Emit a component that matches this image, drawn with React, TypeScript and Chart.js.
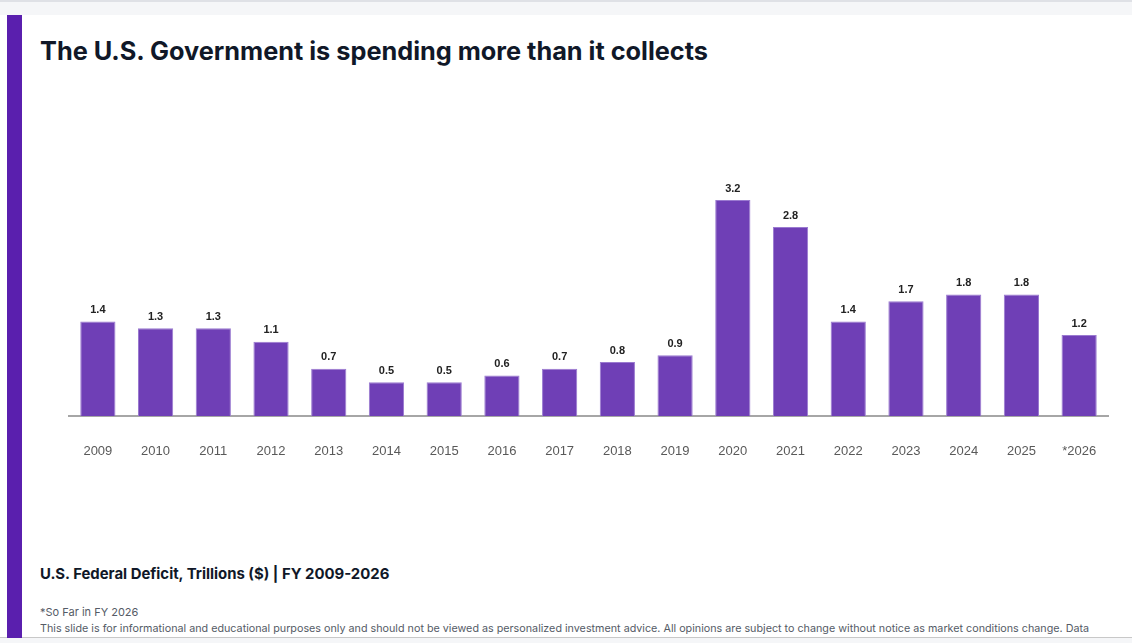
import React, { useEffect, useRef } from "react";
import { Chart, registerables } from "chart.js";

Chart.register(...registerables);

const years = [
  "2009", "2010", "2011", "2012", "2013", "2014", "2015", "2016", "2017",
  "2018", "2019", "2020", "2021", "2022", "2023", "2024", "2025", "*2026",
];
const deficits = [1.4, 1.3, 1.3, 1.1, 0.7, 0.5, 0.5, 0.6, 0.7, 0.8, 0.9, 3.2, 2.8, 1.4, 1.7, 1.8, 1.8, 1.2];

const TITLE = "The U.S. Government is spending more than it collects";
const SUBTITLE = "U.S. Federal Deficit, Trillions ($) | FY 2009-2026";
const FOOTNOTE = "*So Far in FY 2026";
const DISCLAIMER =
  "This slide is for informational and educational purposes only and should not be viewed as personalized investment advice. All opinions are subject to change without notice as market conditions change. Data";

const valueLabels = {
  id: "valueLabels",
  afterDatasetsDraw(chart: any) {
    const ctx = chart.ctx;
    const meta = chart.getDatasetMeta(0);
    ctx.save();
    ctx.font = "bold 11px 'Liberation Sans', Arial, sans-serif";
    ctx.fillStyle = "#222222";
    ctx.textAlign = "center";
    ctx.textBaseline = "middle";
    meta.data.forEach((bar: any, i: number) => {
      ctx.fillText(deficits[i].toFixed(1), bar.x, bar.y - 11.5);
    });
    ctx.restore();
  },
};

function DeficitChart() {
  const ref = useRef<HTMLCanvasElement | null>(null);
  useEffect(() => {
    if (!ref.current) return;
    const chart = new Chart(ref.current, {
      type: "bar",
      data: {
        labels: years,
        datasets: [
          {
            data: deficits,
            backgroundColor: "#6f3fb6",
            borderColor: "#9a7ad0",
            borderWidth: { top: 1, left: 1, right: 1, bottom: 0 },
            barPercentage: 1,
            categoryPercentage: 0.61,
          },
        ],
      },
      options: {
        responsive: false,
        animation: false,
        layout: { padding: { left: 69, right: 24, top: 146, bottom: 10 } },
        plugins: { legend: { display: false }, tooltip: { enabled: false } },
        scales: {
          x: {
            grid: { display: false, drawTicks: false },
            border: { display: true, color: "#a6a6a6", width: 2 },
            ticks: {
              padding: 28,
              color: "#595959",
              font: { family: "'Liberation Sans', Arial, sans-serif", size: 13 },
              maxRotation: 0,
              autoSkip: false,
            },
            afterFit: (scale: any) => {
              scale.height = 54;
            },
          },
          y: { display: false, min: 0, max: 4 },
        },
      },
      plugins: [valueLabels],
    });
    return () => chart.destroy();
  }, []);
  return (
    <canvas
      ref={ref}
      width={1132}
      height={480}
      style={{ position: "absolute", left: 0, top: 0, width: 1132, height: 480 }}
    />
  );
}

export default function App() {
  return (
    <div
      style={{
        position: "fixed",
        left: 0,
        top: 0,
        width: 1132,
        height: 643,
        background: "#f5f6f8",
        overflow: "hidden",
        fontFamily: "Inter, 'Noto Sans', sans-serif",
      }}
    >
      <div style={{ position: "absolute", left: 0, top: 0, width: 1132, height: 2, background: "#dfe1e6" }} />
      <div
        style={{
          position: "absolute",
          left: 0,
          top: 15,
          width: 1132,
          height: 623,
          background: "#ffffff",
          borderBottom: "1px solid #c8c8c8",
          boxSizing: "border-box",
        }}
      />
      <div style={{ position: "absolute", left: 7, top: 15, width: 15, height: 623, background: "#5a1fae" }} />
      <div
        style={{
          position: "absolute",
          left: 40,
          top: 35,
          fontSize: 25.3,
          fontWeight: 700,
          color: "#101828",
          whiteSpace: "nowrap",
        }}
      >
        {TITLE}
      </div>
      <DeficitChart />
      <div
        style={{
          position: "absolute",
          left: 40,
          top: 565,
          fontSize: 14.9,
          fontWeight: 700,
          color: "#101828",
          whiteSpace: "nowrap",
        }}
      >
        {SUBTITLE}
      </div>
      <div
        style={{
          position: "absolute",
          left: 40,
          top: 605,
          fontSize: 11,
          color: "#555b66",
          whiteSpace: "nowrap",
        }}
      >
        {FOOTNOTE}
      </div>
      <div
        style={{
          position: "absolute",
          left: 40,
          top: 622,
          fontSize: 10.75,
          color: "#555b66",
          whiteSpace: "nowrap",
        }}
      >
        {DISCLAIMER}
      </div>
    </div>
  );
}
